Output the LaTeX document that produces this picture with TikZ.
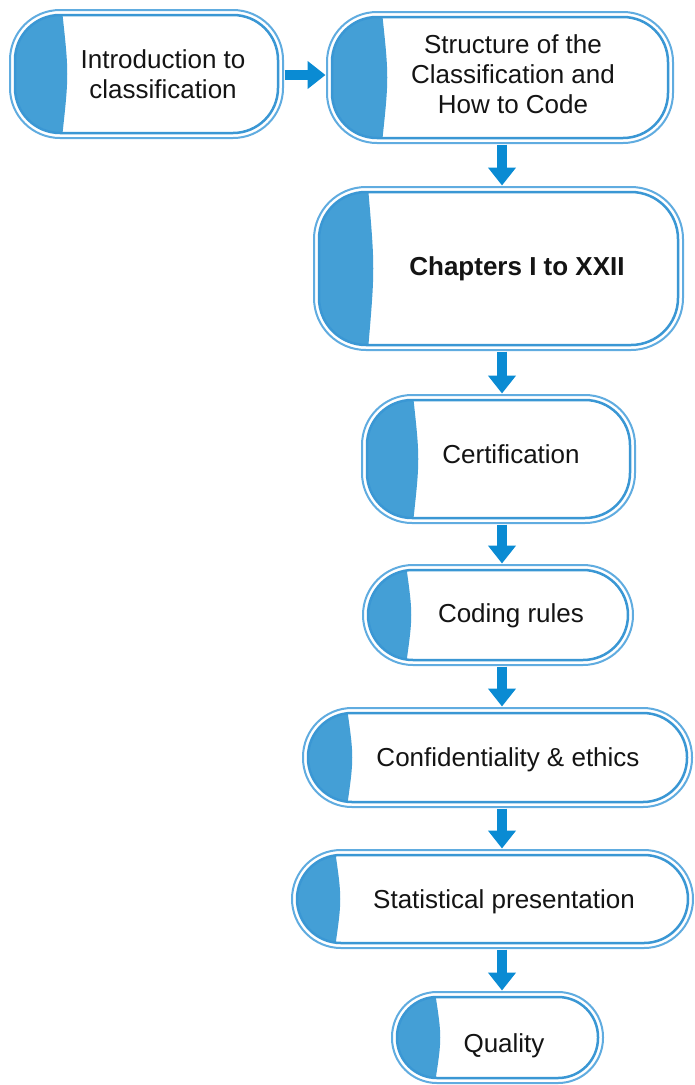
\documentclass[tikz,border=0pt]{standalone}
\usepackage{fontspec}
\setmainfont{Liberation Sans}
\usetikzlibrary{arrows.meta}
\definecolor{outerblue}{RGB}{96,172,224}
\definecolor{innerblue}{RGB}{58,151,212}
\definecolor{capblue}{RGB}{68,159,214}
\definecolor{arrowblue}{RGB}{10,139,211}
\definecolor{txt}{RGB}{20,20,20}
\tikzset{
  boxanchor/.style={rectangle, inner sep=0pt, outer sep=0pt},
  outerline/.style={draw=outerblue, line width=2pt},
  innerline/.style={draw=innerblue, line width=2.5pt},
  capfill/.style={fill=capblue},
  lbl/.style={text=txt, font=\fontsize{26}{30}\selectfont, inner sep=0pt, align=center},
  flowarrow/.style={draw=arrowblue, line width=10pt, -{Triangle[width=27pt,length=18pt]}, shorten >=1.5pt, shorten <=1.5pt},
}
% #1 name, #2 x1, #3 y1, #4 x2, #5 y2, #6 cap x, #7 radius
\newcommand\pillbox[7]{%
  \pgfmathsetmacro\pbri{#7-5}%
  \node[boxanchor, minimum width={(#4-#2)*1pt}, minimum height={(#5-#3)*1pt}] (#1) at ({(#2+#4)/2},{(#3+#5)/2}) {};
  \begin{scope}
    \clip[rounded corners=\pbri pt] (#2+5,#3+5) rectangle (#4-5,#5-5);
    \fill[capfill] (#2,#3) -- (#6,#3) .. controls (#6+7,{(#3+#5)/2}) .. (#6,#5) -- (#2,#5) -- cycle;
  \end{scope}
  \draw[innerline, rounded corners=\pbri pt] (#2+5,#3+5) rectangle (#4-5,#5-5);
  \draw[outerline, rounded corners=#7pt] (#2,#3) rectangle (#4,#5);
}
\begin{document}
\begin{tikzpicture}[x=1pt, y=-1pt]
\useasboundingbox (0,0) rectangle (694,1085);
\fill[white] (0,0) rectangle (694,1085);

\pillbox{b1}{10}{10}{283}{138}{62}{50}
\pillbox{b2}{327}{12}{673}{143}{382}{50}
\pillbox{b3}{314}{187}{683}{350}{368}{52}
\pillbox{b4}{362}{395}{635}{523}{413}{50}
\pillbox{b5}{363}{565}{633}{665}{406}{50}
\pillbox{b6}{303}{708}{692}{807}{347}{49}
\pillbox{b7}{292}{850}{693}{948}{335}{49}
\pillbox{b8}{392}{992}{603}{1083}{435}{45}

\node[lbl] (t1) at (163,74.5) {Introduction to\\classification};
\node[lbl] (t2) at (513,74) {Structure of the\\Classification and\\How to Code};
\node[lbl, anchor=base, font=\fontsize{26}{30}\selectfont\bfseries] (t3) at (517,275) {Chapters I to XXII};
\node[lbl, anchor=base] (t4) at (511,463) {Certification};
\node[lbl, anchor=base] (t5) at (511,622) {Coding rules};
\node[lbl, anchor=base] (t6) at (508,766) {Confidentiality \& ethics};
\node[lbl, anchor=base] (t7) at (504,908) {Statistical presentation};
\node[lbl, anchor=base] (t8) at (504,1052) {Quality};

\coordinate (axis) at (502,0);
\coordinate (hrow) at (0,75);
\draw[flowarrow] (b1.east |- hrow) -- (b2.west |- hrow);
\draw[flowarrow] (b2.south -| axis) -- (b3.north -| axis);
\draw[flowarrow] (b3.south -| axis) -- (b4.north -| axis);
\draw[flowarrow] (b4.south -| axis) -- (b5.north -| axis);
\draw[flowarrow] (b5.south -| axis) -- (b6.north -| axis);
\draw[flowarrow] (b6.south -| axis) -- (b7.north -| axis);
\draw[flowarrow] (b7.south -| axis) -- (b8.north -| axis);
\end{tikzpicture}
\end{document}
